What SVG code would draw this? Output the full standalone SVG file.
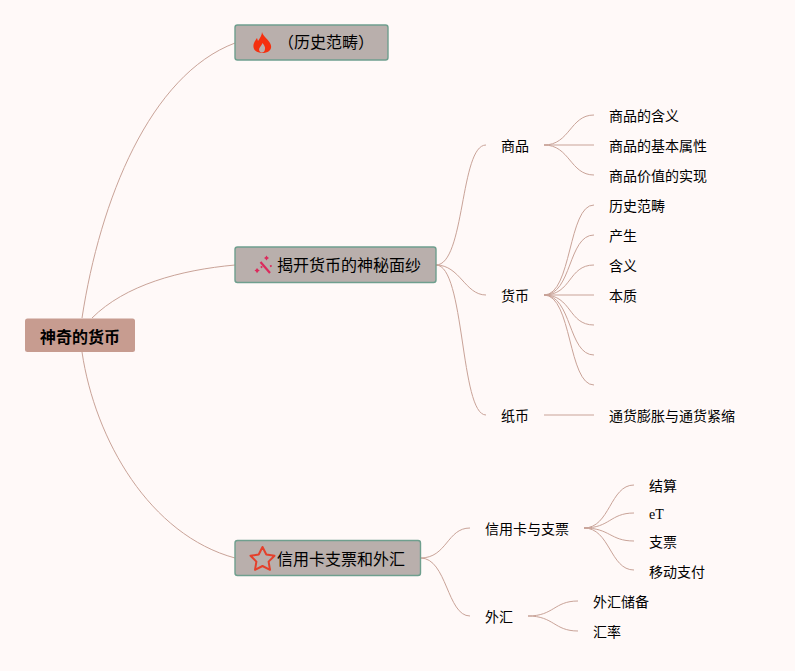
<svg xmlns="http://www.w3.org/2000/svg" width="795" height="671" viewBox="0 0 795 671">
<style>
text{font-family:"Liberation Serif","Noto Sans CJK SC",serif;fill:#000}
.r{font-size:16px;font-weight:700;text-anchor:middle}
.b{font-size:16px}
.t{font-size:14px}
.box{fill:#b9afac;stroke:#6f9f8e;stroke-width:1.4}
#connectors path{fill:none;stroke:#c9a398;stroke-width:1}
</style>
<rect width="795" height="671" fill="#fff9f8"/>
<g id="connectors">
<path d="M82 318C100 200 150 75 235 43"/>
<path d="M92 318C125 285 180 270 235 265"/>
<path d="M82 352C95 440 150 535 235 558"/>
<path d="M436 265C465 265 460 145 486 145"/>
<path d="M436 265C460 265 465 295 486 295"/>
<path d="M436 265C465 265 460 415 486 415"/>
<path d="M544 145C570 145 570 115 594 115"/>
<path d="M544 145H594"/>
<path d="M544 145C570 145 570 175 594 175"/>
<path d="M544 295C572 295 568 205 594 205"/>
<path d="M544 295C572 295 568 235 594 235"/>
<path d="M544 295C572 295 568 265 594 265"/>
<path d="M544 295H594"/>
<path d="M544 295C572 295 568 325 594 325"/>
<path d="M544 295C572 295 568 355 594 355"/>
<path d="M544 295C572 295 568 385 594 385"/>
<path d="M544 415H594"/>
<path d="M420.500 558C447 558 447 528 470 528"/>
<path d="M420.500 558C447 558 447 616 470 616"/>
<path d="M584 528C610 528 610 485 634 485"/>
<path d="M584 528C610 528 610 513 634 513"/>
<path d="M584 528C610 528 610 541 634 541"/>
<path d="M584 528C610 528 610 570 634 570"/>
<path d="M528 616C554 616 554 601 578 601"/>
<path d="M528 616C554 616 554 631 578 631"/>
</g>
<g id="root"><rect x="25" y="318.500" width="110" height="33.500" rx="2.500" fill="#c79c90"/><text class="r" x="80" y="343">神奇的货币</text></g>
<g id="branch1"><rect class="box" x="235" y="25" width="153" height="35" rx="2.500"/>
<path d="M262 32C263 36 267 38 270 43C273 48 270 53 262 53C255 53 252 48 254 43C255 41 256 39 257 38L258 41C260 38 262 35 262 32Z" fill="#f5300f"/><path d="M262 52.500C259.500 52.500 258.500 50 259.500 48C260.500 46 262 45 262.500 43C264 45 265.500 47 265 49C264.700 51 264 52.500 262 52.500Z" fill="#b9afac"/>
<text class="b" x="278" y="48">（历史范畴）</text></g>
<g id="branch2"><rect class="box" x="235" y="247" width="201" height="35.500" rx="2.500"/>
<path d="M260.500 262L270 273" stroke="#dc2a5c" stroke-width="2.200" fill="none"/><path d="M266.500 255.500l1 1.500 1.500 1-1.500 1-1 1.500-1-1.500-1.500-1 1.500-1zM257 268l1.200 1.600 1.600 1-1.600 1-1.200 1.600-1-1.600-1.500-1 1.500-1zM270.800 265a1 1 0 1 0 .1 0ZM261.500 266a1 1 0 1 0 .1 0Z" fill="#dc2a5c"/>
<text class="b" x="277" y="271">揭开货币的神秘面纱</text></g>
<g id="branch3"><rect class="box" x="235" y="540.500" width="185.500" height="35" rx="2.500"/>
<path d="M262.500 547L266.300 554.500 274.500 555.800 268.600 561.600 270 569.800 262.500 566 255 569.800 256.400 561.600 250.500 555.800 258.700 554.500Z" fill="none" stroke="#e4402c" stroke-width="2" stroke-linejoin="round"/>
<text class="b" x="277" y="565">信用卡支票和外汇</text></g>
<g id="n1"><text class="t" x="501" y="151">商品</text></g>
<g id="n2"><text class="t" x="501" y="301">货币</text></g>
<g id="n3"><text class="t" x="501" y="421">纸币</text></g>
<g id="n4"><text class="t" x="609" y="121">商品的含义</text></g>
<g id="n5"><text class="t" x="609" y="151">商品的基本属性</text></g>
<g id="n6"><text class="t" x="609" y="181">商品价值的实现</text></g>
<g id="n7"><text class="t" x="609" y="211">历史范畴</text></g>
<g id="n8"><text class="t" x="609" y="241">产生</text></g>
<g id="n9"><text class="t" x="609" y="271">含义</text></g>
<g id="n10"><text class="t" x="609" y="301">本质</text></g>
<g id="n11"><text class="t" x="609" y="421">通货膨胀与通货紧缩</text></g>
<g id="n12"><text class="t" x="485" y="534">信用卡与支票</text></g>
<g id="n13"><text class="t" x="485" y="622">外汇</text></g>
<g id="n14"><text class="t" x="649" y="491">结算</text></g>
<g id="n15"><text class="t" x="649" y="519">eT</text></g>
<g id="n16"><text class="t" x="649" y="547">支票</text></g>
<g id="n17"><text class="t" x="649" y="577">移动支付</text></g>
<g id="n18"><text class="t" x="593" y="607">外汇储备</text></g>
<g id="n19"><text class="t" x="593" y="637">汇率</text></g>
</svg>
